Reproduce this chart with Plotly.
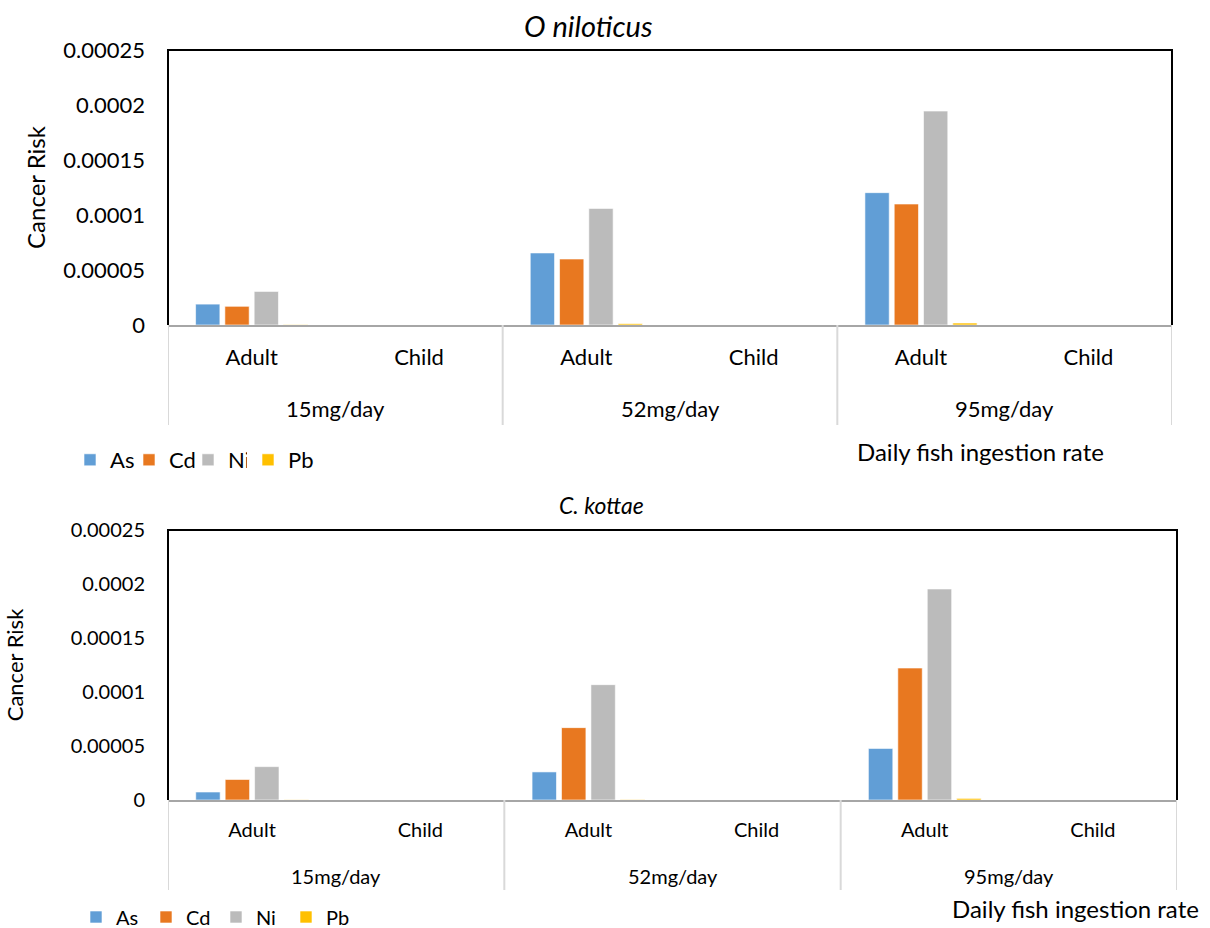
import plotly.graph_objects as go

# Ingestion-rate groups and age classes on the category axis
groups = ["15mg/day", "52mg/day", "95mg/day"]
ages = ["Adult", "Child"]
metals = ["As", "Cd", "Ni", "Pb"]
colors = {"As": "#619ED6", "Cd": "#E87820", "Ni": "#BBBBBB", "Pb": "#FFC000"}

# Cancer risk, O. niloticus (order: 15 Adult, 15 Child, 52 Adult, 52 Child, 95 Adult, 95 Child)
nil_As = [1.9e-5, 0.0, 6.55e-5, 0.0, 1.203e-4, 0.0]
nil_Cd = [1.7e-5, 0.0, 6.0e-5, 0.0, 1.10e-4, 0.0]
nil_Ni = [3.05e-5, 0.0, 1.06e-4, 0.0, 1.945e-4, 0.0]
nil_Pb = [3e-7, 0.0, 1.2e-6, 0.0, 1.8e-6, 0.0]

# Cancer risk, C. kottae
kot_As = [7.4e-6, 0.0, 2.6e-5, 0.0, 4.78e-5, 0.0]
kot_Cd = [1.9e-5, 0.0, 6.7e-5, 0.0, 1.222e-4, 0.0]
kot_Ni = [3.09e-5, 0.0, 1.068e-4, 0.0, 1.954e-4, 0.0]
kot_Pb = [2e-7, 0.0, 4e-7, 0.0, 1.5e-6, 0.0]

y_tick_vals = [0, 0.00005, 0.0001, 0.00015, 0.0002, 0.00025]
y_tick_text = ["0", "0.00005", "0.0001", "0.00015", "0.0002", "0.00025"]

cats = [f"{g} {a}" for g in groups for a in ages]
age_text = [a for g in groups for a in ages]

FONT = "Lato, 'Open Sans', sans-serif"
W, H = 1210, 928

fig = go.Figure()

series_top = {"As": nil_As, "Cd": nil_Cd, "Ni": nil_Ni, "Pb": nil_Pb}
series_bot = {"As": kot_As, "Cd": kot_Cd, "Ni": kot_Ni, "Pb": kot_Pb}

# top panel: Pb gets its own legend box so every key keeps the same spacing
top_legend = {"As": "legend", "Cd": "legend", "Ni": "legend", "Pb": "legend3"}

for m in metals:
    fig.add_trace(go.Bar(x=cats, y=series_top[m], name=m, marker_color=colors[m],
                         marker_line=dict(color="rgba(255,255,255,0.6)", width=1),
                         xaxis="x", yaxis="y", legend=top_legend[m]))
for m in metals:
    fig.add_trace(go.Bar(x=cats, y=series_bot[m], name=m, marker_color=colors[m],
                         marker_line=dict(color="rgba(255,255,255,0.6)", width=1),
                         xaxis="x2", yaxis="y2", legend="legend2"))

# Panel geometry in pixels
top_px = dict(l=168, r=1172, t=50, b=325)
bot_px = dict(l=168, r=1177, t=530, b=800)


def xdom(p):
    return [p["l"] / W, p["r"] / W]


def ydom(p):
    return [1 - p["b"] / H, 1 - p["t"] / H]


def xaxis_cfg(p, size, standoff):
    return dict(domain=xdom(p), type="category", categoryorder="array", categoryarray=cats,
                range=[-0.5, len(cats) - 0.5], showline=True, linecolor="#A6A6A6", linewidth=2,
                ticks="", tickvals=cats, ticktext=age_text, showgrid=False, zeroline=False,
                tickfont=dict(family=FONT, size=size, color="#000"), ticklabelstandoff=standoff,
                automargin=False, fixedrange=True)


def yaxis_cfg(p, size, anchor, title_standoff):
    return dict(domain=ydom(p), anchor=anchor, range=[0, 0.00025], tickvals=y_tick_vals,
                ticktext=y_tick_text, showgrid=False, zeroline=False, showline=False, ticks="",
                tickfont=dict(family=FONT, size=size, color="#000"), ticklabelstandoff=22,
                title=dict(text="Cancer Risk", font=dict(family=FONT, size=size + 2, color="#000"),
                           standoff=title_standoff),
                automargin=False, fixedrange=True)


def legend_cfg(x_px, y_px, size, entry):
    return dict(orientation="h", x=x_px / W, xanchor="left", y=1 - y_px / H, yanchor="middle",
                font=dict(family=FONT, size=size, color="#000"), entrywidth=entry,
                bgcolor="rgba(0,0,0,0)", traceorder="normal")


fig.update_layout(
    width=W, height=H, margin=dict(l=0, r=0, t=0, b=0, autoexpand=False),
    paper_bgcolor="white", plot_bgcolor="white",
    barmode="group", bargap=0.3, bargroupgap=0.17,
    xaxis=xaxis_cfg(top_px, 22, 12) | dict(anchor="y"),
    yaxis=yaxis_cfg(top_px, 22, "x", 10),
    xaxis2=xaxis_cfg(bot_px, 20, 11) | dict(anchor="y2"),
    yaxis2=yaxis_cfg(bot_px, 20, "x2", 40),
    legend=legend_cfg(70, 460, 22, 14),
    legend3=legend_cfg(248, 460, 22, 30),
    legend2=legend_cfg(76, 917, 20, 25),
)

shapes = []
annotations = []
for xa, ya, p, size, lab_y, title_text, title_size, title_x, title_y, xt_x, xt_y in [
    ("x", "y", top_px, 22, 408, "<i>O niloticus</i>", 29, 588, 25, 980, 452),
    ("x2", "y2", bot_px, 20, 876, "<i>C. kottae</i>", 23, 601, 505, 1075, 908),
]:
    ph = p["b"] - p["t"]
    # black frame on top, left and right of the plot area
    shapes.append(dict(type="path", xref=f"{xa} domain", yref=f"{ya} domain",
                       path="M0,0 L0,1 L1,1 L1,0", line=dict(color="#000", width=2)))
    # dividers between ingestion-rate groups
    div_end = -((425 if xa == "x" else 890) - p["b"]) / ph
    for k in range(len(groups) + 1):
        shapes.append(dict(type="line", xref=xa, yref=f"{ya} domain",
                           x0=k * len(ages) - 0.5, x1=k * len(ages) - 0.5, y0=0, y1=div_end,
                           line=dict(color="#D9D9D9", width=2)))
    for gi, g in enumerate(groups):
        annotations.append(dict(text=g, xref=xa, yref=f"{ya} domain",
                                x=gi * len(ages) + (len(ages) - 1) / 2, y=-(lab_y - p["b"]) / ph,
                                showarrow=False, xanchor="center", yanchor="middle",
                                font=dict(family=FONT, size=size, color="#000")))
    annotations.append(dict(text=title_text, xref="paper", yref="paper",
                            x=title_x / W, y=1 - title_y / H,
                            showarrow=False, xanchor="center", yanchor="middle",
                            font=dict(family=FONT, size=title_size, color="#000")))
    annotations.append(dict(text="Daily fish ingestion rate", xref="paper", yref="paper",
                            x=xt_x / W, y=1 - xt_y / H, showarrow=False,
                            xanchor="center", yanchor="middle",
                            font=dict(family=FONT, size=24, color="#000")))

fig.update_layout(shapes=shapes, annotations=annotations)

fig.write_html("out.html")
